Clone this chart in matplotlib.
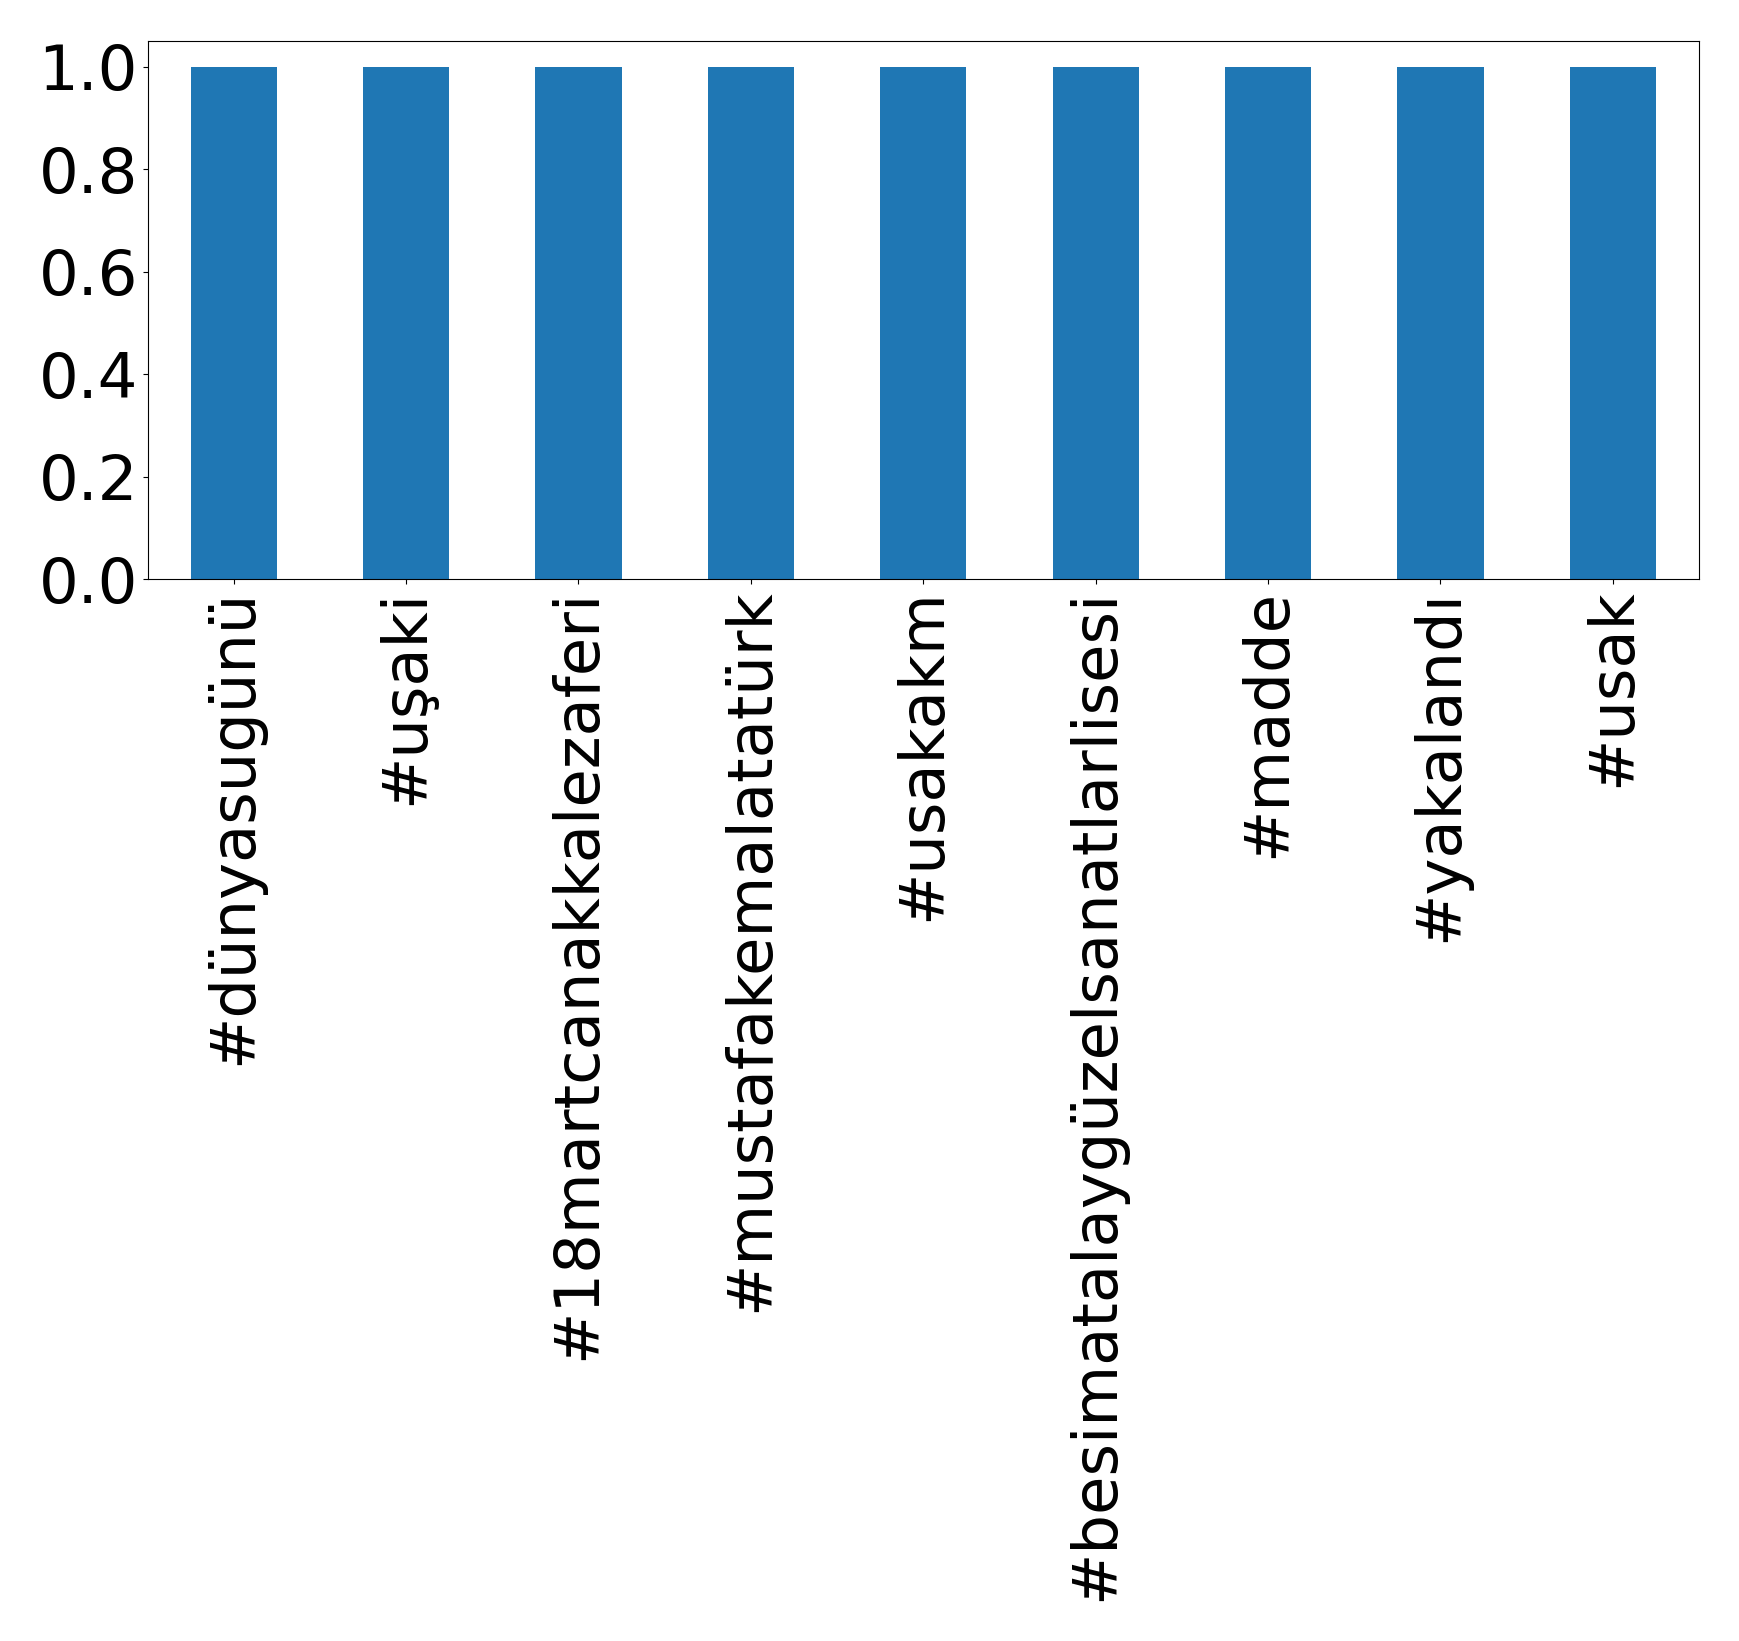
import matplotlib
matplotlib.use("Agg")
import matplotlib.pyplot as plt
import pandas as pd

hashtags = ['#dünyasugünü', '#uşaki', '#18martcanakkalezaferi', '#mustafakemalatatürk',
            '#usakakm', '#besimatalaygüzelsanatlarlisesi', '#madde', '#yakalandı', '#usak']
counts = [1, 1, 1, 1, 1, 1, 1, 1, 1]

s = pd.Series(counts, index=hashtags)

fig = plt.figure(figsize=(17.39, 16.41), dpi=100)
ax = fig.add_axes([147.5 / 1739, 1 - 579 / 1641, (1699 - 147.5) / 1739, (579 - 41) / 1641])
s.plot(kind='bar', ax=ax, color='#1f77b4')
ax.tick_params(axis='both', labelsize=45)
ax.set_yticks([0.0, 0.2, 0.4, 0.6, 0.8, 1.0])
ax.set_ylim(0, 1.05)

fig.savefig('out.png', dpi=100)
